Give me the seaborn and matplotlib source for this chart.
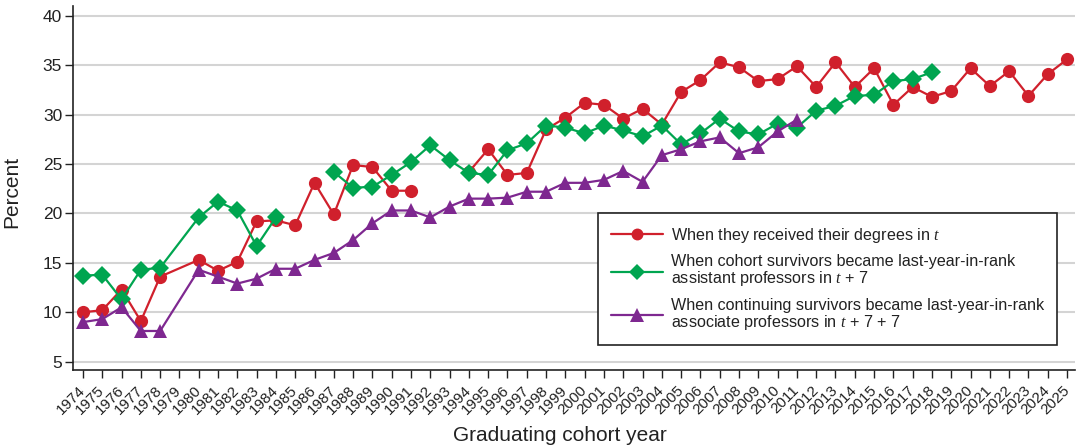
import numpy as np
import pandas as pd
import matplotlib
matplotlib.use("Agg")
import matplotlib.pyplot as plt
import seaborn as sns

# Cohort years with observations (1979 has none; lines run straight across it)
years = [1974, 1975, 1976, 1977, 1978, 1980, 1981, 1982, 1983, 1984, 1985,
         1986, 1987, 1988, 1989, 1990, 1991, 1992, 1993, 1994, 1995, 1996,
         1997, 1998, 1999, 2000, 2001, 2002, 2003, 2004, 2005, 2006, 2007,
         2008, 2009, 2010, 2011, 2012, 2013, 2014, 2015, 2016, 2017, 2018,
         2019, 2020, 2021, 2022, 2023, 2024, 2025]

nan = np.nan
degrees = [10.0, 10.2, 12.3, 9.1, 13.6, 15.3, 14.2, 15.1, 19.2, 19.3, 18.8,
           23.1, 19.9, 24.9, 24.7, 22.3, 22.3, nan, nan, 24.2, 26.5, 23.9,
           24.1, 28.5, 29.7, 31.2, 31.0, 29.6, 30.6, 29.0, 32.3, 33.5, 35.3,
           34.8, 33.4, 33.6, 34.9, 32.8, 35.3, 32.8, 34.7, 31.0, 32.8, 31.8,
           32.4, 34.7, 32.9, 34.4, 31.9, 34.1, 35.6]
assistant = [13.7, 13.8, 11.3, 14.3, 14.5, 19.6, 21.2, 20.3, 16.7, 19.6, nan,
             nan, 24.2, 22.6, 22.7, 23.9, 25.2, 26.9, 25.4, 24.1, 23.9, 26.4,
             27.1, 28.9, 28.7, 28.1, 28.9, 28.4, 27.8, 28.9, 27.0, 28.1, 29.6,
             28.3, 28.0, 29.1, 28.7, 30.4, 30.9, 31.9, 32.0, 33.4, 33.6, 34.3,
             nan, nan, nan, nan, nan, nan, nan]
associate = [9.0, 9.3, 10.5, 8.1, 8.1, 14.3, 13.6, 12.9, 13.4, 14.4, 14.4,
             15.3, 16.0, 17.3, 19.0, 20.3, 20.3, 19.6, 20.7, 21.5, 21.5, 21.6,
             22.2, 22.2, 23.1, 23.1, 23.4, 24.3, 23.2, 25.9, 26.5, 27.3, 27.7,
             26.1, 26.7, 28.3, 29.5, nan, nan, nan, nan, nan, nan, nan,
             nan, nan, nan, nan, nan, nan, nan]

labels = [
    "When they received their degrees in $t$",
    "When cohort survivors became last-year-in-rank\nassistant professors in $t$ + 7",
    "When continuing survivors became last-year-in-rank\nassociate professors in $t$ + 7 + 7",
]
tick_years = list(range(1974, 2026))

colors = ["#d0202c", "#00a550", "#7e2890"]
markers = ["o", "D", "^"]
msizes = [9.5, 9.5, 10.5]

# Long table; a new segment id starts after each run of missing values
rows = []
for label, vals in zip(labels, [degrees, assistant, associate]):
    seg = 0
    prev_missing = False
    for yr, v in zip(years, vals):
        if np.isnan(v):
            prev_missing = True
            continue
        if prev_missing:
            seg += 1
            prev_missing = False
        rows.append({"year": yr, "pct": v, "series": label, "segment": f"{label}|{seg}"})
df = pd.DataFrame(rows)

sns.set_style("white")
plt.rcParams["font.family"] = ["Liberation Sans", "DejaVu Sans"]
plt.rcParams["mathtext.fontset"] = "custom"
plt.rcParams["mathtext.rm"] = "Liberation Sans"
plt.rcParams["mathtext.it"] = "Liberation Serif:italic"

fig = plt.figure(figsize=(10.78, 4.46), dpi=100)
ax = fig.add_axes([0.068, 0.1704, 0.929, 0.8161])

for label, col, mk, ms in zip(labels, colors, markers, msizes):
    sub = df[df["series"] == label]
    sns.lineplot(data=sub, x="year", y="pct", units="segment", estimator=None,
                 color=col, marker=mk, markersize=ms, markeredgecolor=col,
                 markeredgewidth=0, linewidth=1.6, ax=ax, label=label,
                 legend=False)

ax.set_xlim(1973.5, 2025.4)
ax.set_ylim(4.15, 41)
ax.set_yticks(range(5, 41, 5))
ax.set_xticks(tick_years)
ax.set_xticklabels([str(y) for y in tick_years], rotation=45, ha="right",
                   va="center", rotation_mode="anchor", fontsize=11)
ax.tick_params(axis="y", labelsize=12.5, length=6, width=1, color="#222222",
               direction="out", left=True, pad=2, labelcolor="#222222")
ax.tick_params(axis="x", length=6, width=1, color="#222222",
               direction="out", bottom=True, pad=7, labelcolor="#222222")
ax.grid(axis="y", color="#d4d4d4", linewidth=1.5)
ax.set_axisbelow(True)
for side in ["top", "right"]:
    ax.spines[side].set_visible(False)
for side in ["left", "bottom"]:
    ax.spines[side].set_color("#222222")
    ax.spines[side].set_linewidth(1.2)

ax.set_xlabel("Graduating cohort year", fontsize=15, color="#222222")
ax.set_ylabel("Percent", fontsize=15, color="#222222")
ax.xaxis.set_label_coords((560 - 73.3) / 1001.7, -0.155)
ax.yaxis.set_label_coords(-0.052, 0.49)

handles = [plt.Line2D([0], [0], color=c, marker=m, markersize=s * 0.9,
                      markeredgewidth=0, linewidth=1.6)
           for c, m, s in zip(colors, markers, msizes)]
leg = ax.legend(handles, labels, loc="lower right",
                bbox_to_anchor=(0.982, 0.0687), borderaxespad=0,
                fontsize=11.6, frameon=True, fancybox=False, edgecolor="#222222",
                framealpha=1, handlelength=3.2, labelspacing=0.6,
                borderpad=0.8, handletextpad=0.5)
leg.get_frame().set_linewidth(1.2)
for t in leg.get_texts():
    t.set_linespacing(1.0)
    t.set_color("#222222")

fig.savefig("out.png", dpi=100)
